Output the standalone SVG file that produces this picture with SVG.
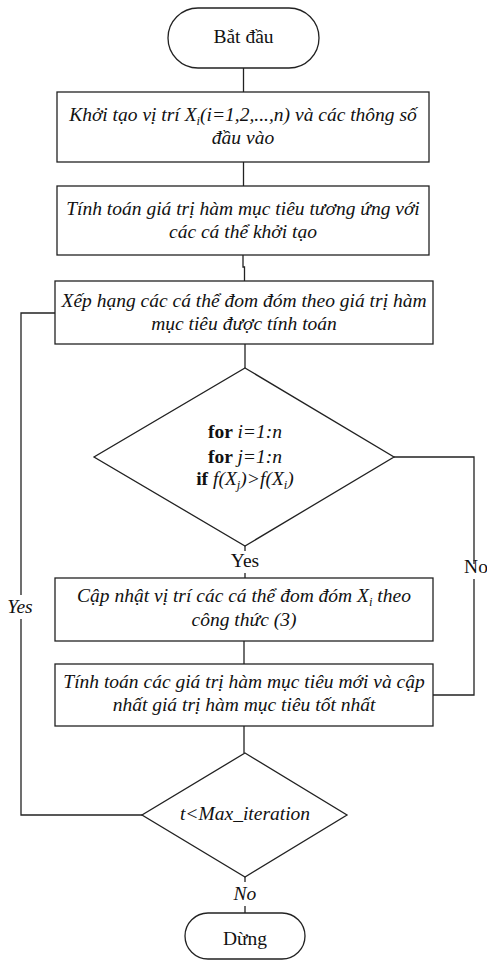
<svg xmlns="http://www.w3.org/2000/svg" width="487" height="961" viewBox="0 0 487 961" font-family="'Liberation Serif', 'Times New Roman', serif">
<style>
.s{fill:#fff;stroke:#222;stroke-width:1.3}
.c{fill:none;stroke:#222;stroke-width:1.3}
text{font-family:"Liberation Serif",serif;font-size:19.5px;fill:#111;text-anchor:middle}
.i{font-style:italic}
.b{font-weight:bold}
.sub{font-size:12.5px}
</style>
<rect width="487" height="961" fill="#fff"/>
<g id="connectors">
<path class="c" d="M243.5 68V92"/>
<path class="c" d="M243.5 162V186"/>
<path class="c" d="M243 255V267H244.5V281"/>
<path class="c" d="M245 344V368"/>
<path class="c" d="M245 546V551M245 573V578"/>
<path class="c" d="M244 641V664"/>
<path class="c" d="M244 726V753"/>
<path class="c" d="M245 877V882M245 906V913"/>
<path class="c" d="M394 457H474V564M474 579V695H433"/>
<path class="c" d="M142 815H21V619M21 595V313H55"/>
<text x="245" y="567">Yes</text>
<text x="476" y="573">No</text>
<text class="i" x="20" y="613">Yes</text>
<text class="i" x="245" y="900">No</text>
</g>
<g id="start">
<rect class="s" x="168" y="8" width="151" height="60" rx="30"/>
<text x="243.5" y="43">Bắt đầu</text>
</g>
<g id="init">
<rect class="s" x="57" y="92" width="372" height="70"/>
<text class="i" x="243" y="121">Khởi tạo vị trí X<tspan class="sub" dy="4">i</tspan><tspan dy="-4">(i=1,2,...,n) và các thông số</tspan></text>
<text class="i" x="243" y="144">đầu vào</text>
</g>
<g id="eval">
<rect class="s" x="57" y="186" width="372" height="69"/>
<text class="i" x="243" y="215">Tính toán giá trị hàm mục tiêu tương ứng với</text>
<text class="i" x="243" y="238">các cá thể khởi tạo</text>
</g>
<g id="rank">
<rect class="s" x="55" y="281" width="378" height="63"/>
<text class="i" x="244" y="307">Xếp hạng các cá thể đom đóm theo giá trị hàm</text>
<text class="i" x="244" y="330">mục tiêu được tính toán</text>
</g>
<g id="loop">
<polygon class="s" points="245,368 394,457 245,546 94,457"/>
<text x="245" y="438"><tspan class="b">for </tspan><tspan class="i">i=1:n</tspan></text>
<text x="245" y="463"><tspan class="b">for </tspan><tspan class="i">j=1:n</tspan></text>
<text x="245" y="485"><tspan class="b">if </tspan><tspan class="i">f(X</tspan><tspan class="i sub" dy="4">j</tspan><tspan class="i" dy="-4">)&gt;f(X</tspan><tspan class="i sub" dy="4">i</tspan><tspan class="i" dy="-4">)</tspan></text>
</g>
<g id="update">
<rect class="s" x="55" y="578" width="378" height="63"/>
<text class="i" x="244" y="602">Cập nhật vị trí các cá thể đom đóm X<tspan class="sub" dy="4">i</tspan><tspan dy="-4"> theo</tspan></text>
<text class="i" x="244" y="626">công thức (3)</text>
</g>
<g id="recompute">
<rect class="s" x="55" y="664" width="378" height="62"/>
<text class="i" x="244" y="688">Tính toán các giá trị hàm mục tiêu mới và cập</text>
<text class="i" x="244" y="711">nhất giá trị hàm mục tiêu tốt nhất</text>
</g>
<g id="check">
<polygon class="s" points="245,753 347,815 245,877 142,815"/>
<text class="i" x="245" y="820">t&lt;Max_iteration</text>
</g>
<g id="stop">
<rect class="s" x="185" y="913" width="120" height="46" rx="23"/>
<text x="245" y="945">Dừng</text>
</g>
</svg>
